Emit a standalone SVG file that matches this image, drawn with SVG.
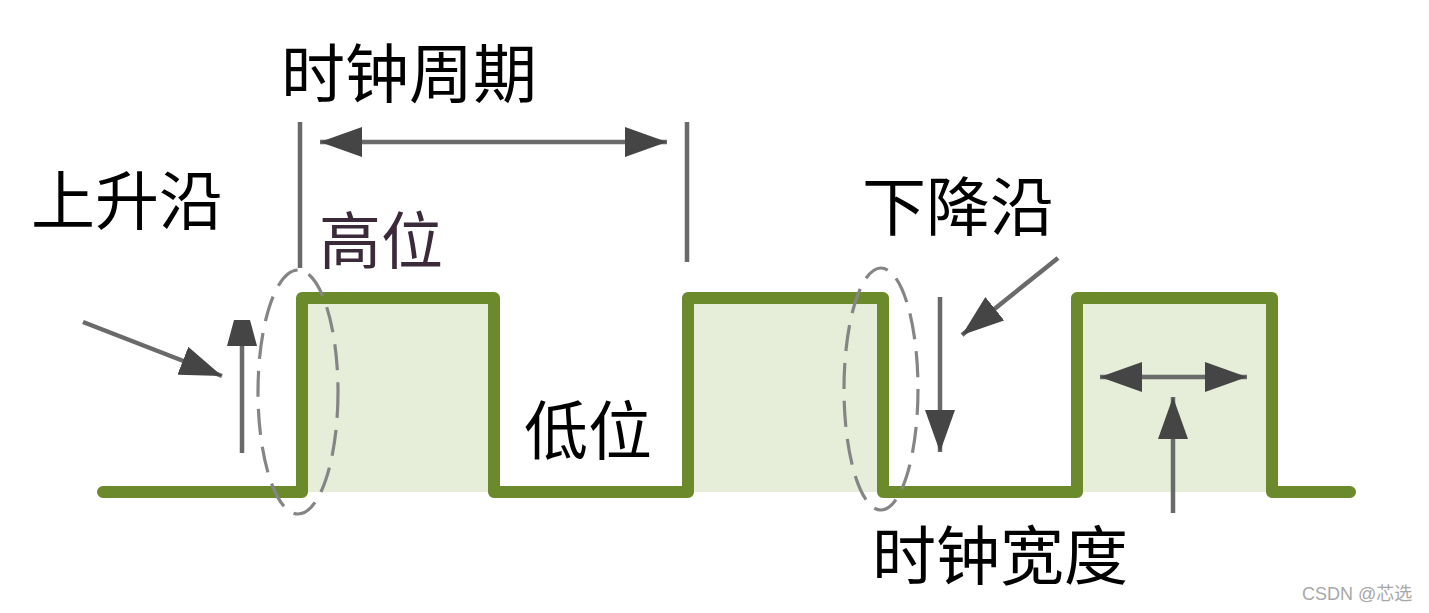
<svg xmlns="http://www.w3.org/2000/svg" width="1429" height="613" viewBox="0 0 1429 613">
<style>
.lbl{font-family:"Noto Sans CJK SC","Noto Sans",sans-serif;font-size:64px;fill:#000}
.wave{fill:none;stroke:#6a8a2c;stroke-width:12;stroke-linejoin:round;stroke-linecap:round}
.pulse{fill:#e6eed9}
.edge{fill:none;stroke:#858585;stroke-width:3.2;stroke-dasharray:26 12}
.conn{stroke:#6a6a6a;stroke-width:4.5;fill:none}
.head{fill:#454545}
</style>
<defs>
<marker id="ah" viewBox="0 0 42 30" refX="42" refY="15" markerWidth="42" markerHeight="30" markerUnits="userSpaceOnUse" orient="auto-start-reverse">
<path d="M0,0 L42,15 L0,30 Z" class="head"/>
</marker>
</defs>
<rect width="1429" height="613" fill="#ffffff"/>
<g id="waveform">
<rect class="pulse" x="302" y="298" width="192" height="194"/>
<rect class="pulse" x="688" y="298" width="195" height="194"/>
<rect class="pulse" x="1077" y="298" width="195" height="194"/>
<path class="wave" d="M103,492 H302 V298 H494 V492 H688 V298 H883 V492 H1077 V298 H1272 V492 H1350"/>
</g>
<g id="rising-edge-marker">
<ellipse class="edge" cx="298" cy="392" rx="40" ry="122"/>
</g>
<g id="falling-edge-marker">
<ellipse class="edge" cx="881" cy="389" rx="37" ry="121"/>
</g>
<g id="connectors">
<line class="conn" x1="300" y1="122" x2="300" y2="268"/>
<line class="conn" x1="687" y1="122" x2="687" y2="262"/>
<line class="conn" x1="320" y1="142" x2="667" y2="142" marker-start="url(#ah)" marker-end="url(#ah)"/>
<line class="conn" x1="83" y1="322" x2="222" y2="376" marker-end="url(#ah)"/>
<line class="conn" x1="242" y1="453" x2="242" y2="335"/>
<polygon class="head" points="234,320 250,320 257,346 227,346"/>
<line class="conn" x1="940" y1="297" x2="940" y2="452" marker-end="url(#ah)"/>
<line class="conn" x1="1058" y1="258" x2="962" y2="335" marker-end="url(#ah)"/>
<line class="conn" x1="1100" y1="377" x2="1247" y2="377" marker-start="url(#ah)" marker-end="url(#ah)"/>
<line class="conn" x1="1173" y1="513" x2="1173" y2="397" marker-end="url(#ah)"/>
</g>
<g id="label-period"><text class="lbl" x="281" y="97">时钟周期</text></g>
<g id="label-rising"><text class="lbl" x="31" y="224">上升沿</text></g>
<g id="label-high"><text class="lbl" x="319" y="264" style="font-size:62px;fill:#3b2a3a">高位</text></g>
<g id="label-low"><text class="lbl" x="524" y="454">低位</text></g>
<g id="label-falling"><text class="lbl" x="862" y="230">下降沿</text></g>
<g id="label-width"><text class="lbl" x="872" y="579">时钟宽度</text></g>
<g id="watermark"><text x="1302" y="600" style="font-family:'Liberation Sans','Noto Sans CJK SC',sans-serif;font-size:18px;fill:#a8a8a8">CSDN @芯选</text></g>
</svg>
